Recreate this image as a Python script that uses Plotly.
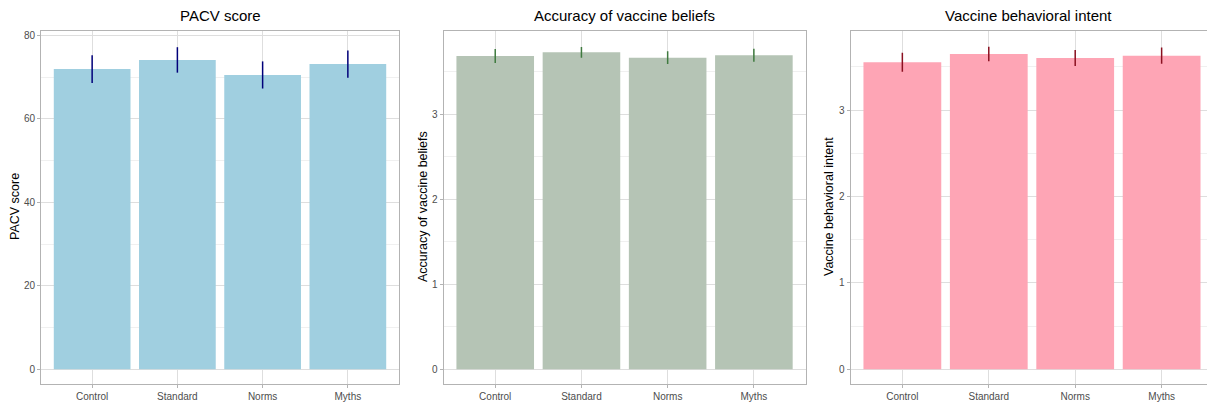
import plotly.graph_objects as go

W, H = 1207, 405

conditions = ["Control", "Standard", "Norms", "Myths"]

pacv_mean = [71.9, 74.1, 70.5, 73.1]
pacv_err = [3.35, 3.05, 3.25, 3.25]

beliefs_mean = [3.686, 3.729, 3.666, 3.694]
beliefs_err = [0.082, 0.063, 0.075, 0.077]

intent_mean = [3.553, 3.649, 3.603, 3.630]
intent_err = [0.110, 0.085, 0.093, 0.093]

panels = [
    dict(title="PACV score", mean=pacv_mean, err=pacv_err,
         fill="#A0CFE0", bar_line="#00007A",
         px=(41, 399), yrange=[-3.52, 81.03], ticks=[0, 20, 40, 60, 80],
         minor=[10, 30, 50, 70], ytitle_x=15, title_x=220, xrange=[0.4, 4.6]),
    dict(title="Accuracy of vaccine beliefs", mean=beliefs_mean, err=beliefs_err,
         fill="#B5C4B5", bar_line="#3F7A3F",
         px=(443.5, 805.6), yrange=[-0.173, 3.98], ticks=[0, 1, 2, 3],
         minor=[0.5, 1.5, 2.5, 3.5], ytitle_x=423, title_x=624, xrange=[0.4, 4.6]),
    dict(title="Vaccine behavioral intent", mean=intent_mean, err=intent_err,
         fill="#FEA5B5", bar_line="#8B1020",
         px=(850.5, 1207), yrange=[-0.170, 3.915], ticks=[0, 1, 2, 3],
         minor=[0.5, 1.5, 2.5, 3.5], ytitle_x=829, title_x=1028, xrange=[0.4, 4.525]),
]

FONT = "Liberation Sans, Arial, Helvetica, sans-serif"
y_dom = [(405 - 384) / H, (405 - 31) / H]

fig = go.Figure()
layout = dict(
    width=W, height=H,
    margin=dict(l=0, r=0, t=0, b=0),
    paper_bgcolor="white", plot_bgcolor="white",
    showlegend=False, bargap=0.1,
    font=dict(family=FONT),
)
annotations = []

for i, p in enumerate(panels):
    k = "" if i == 0 else str(i + 1)
    xa, ya = "x" + k, "y" + k
    xpos = list(range(1, len(conditions) + 1))
    fig.add_trace(go.Bar(
        x=xpos, y=p["mean"], width=0.9,
        marker=dict(color=p["fill"], line=dict(width=0)),
        error_y=dict(type="data", array=p["err"], visible=True,
                     width=0, thickness=1.5, color=p["bar_line"]),
        xaxis=xa, yaxis=ya, hoverinfo="skip",
    ))
    last = i == len(panels) - 1
    layout["xaxis" + k] = dict(
        domain=[p["px"][0] / W, p["px"][1] / W], anchor=ya,
        range=p["xrange"], tickmode="array", tickvals=xpos, ticktext=conditions,
        showgrid=True, gridcolor="#DEDEDE", gridwidth=1,
        showline=True, linecolor="#B3B3B3", linewidth=1, mirror=True,
        ticks="outside", ticklen=3, tickcolor="#B3B3B3", tickwidth=1,
        tickfont=dict(size=10, color="#4D4D4D", family=FONT),
        zeroline=False, fixedrange=True,
    )
    layout["yaxis" + k] = dict(
        domain=y_dom, anchor=xa, range=p["yrange"],
        tickmode="array", tickvals=p["ticks"],
        showgrid=True, gridcolor="#DEDEDE", gridwidth=1,
        minor=dict(tickmode="array", tickvals=p["minor"], showgrid=True,
                   gridcolor="#F0F0F0", gridwidth=1),
        showline=True, linecolor="#B3B3B3", linewidth=1, mirror=not last,
        ticks="outside", ticklen=3, tickcolor="#B3B3B3", tickwidth=1,
        tickfont=dict(size=10, color="#4D4D4D", family=FONT),
        zeroline=False, fixedrange=True,
    )
    annotations.append(dict(
        text=p["title"], x=p["title_x"] / W, y=(405 - 15) / H,
        xref="paper", yref="paper", xanchor="center", yanchor="middle",
        showarrow=False, font=dict(size=15, color="black", family=FONT),
    ))
    annotations.append(dict(
        text=p["title"], x=p["ytitle_x"] / W, y=(405 - 207) / H,
        xref="paper", yref="paper", xanchor="center", yanchor="middle",
        textangle=-90, showarrow=False,
        font=dict(size=12.5, color="black", family=FONT),
    ))

layout["annotations"] = annotations
fig.update_layout(**layout)
fig.write_html("out.html")
